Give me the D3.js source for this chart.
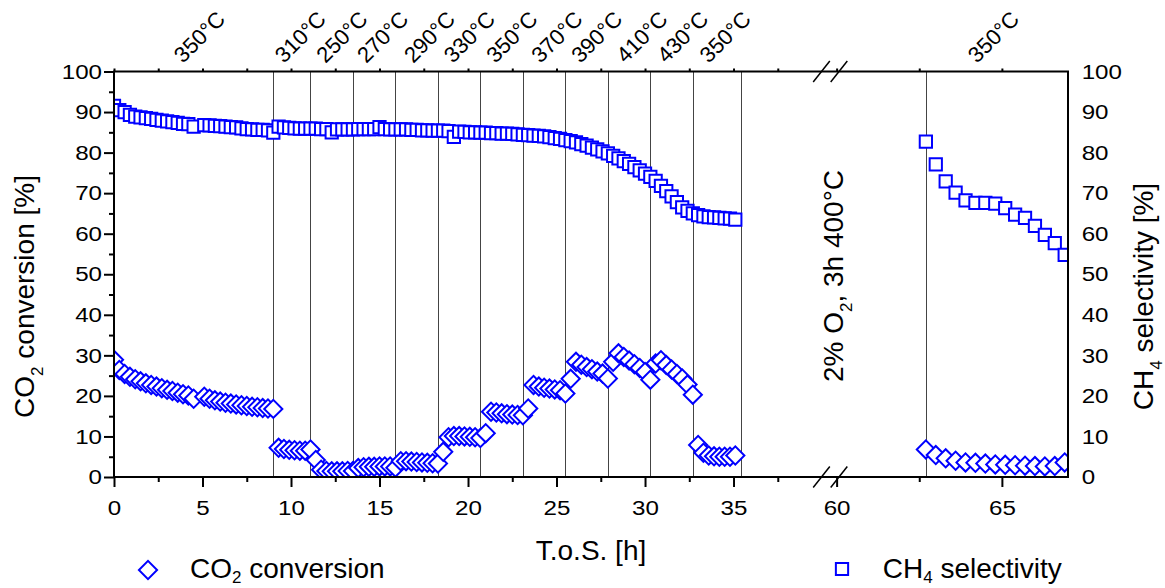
<!DOCTYPE html>
<html>
<head>
<meta charset="utf-8">
<script src="https://cdn.jsdelivr.net/npm/d3@7"></script>
<style>
  body { margin: 0; background: #fff; }
  svg text { font-family: "Liberation Sans", Arial, sans-serif; fill: #000; }
</style>
</head>
<body>
<div id="chart"></div>
<script>
// time on stream [h] before the break, one row per temperature step
var tosA = [
  0, 0.3, 0.6, 0.9, 1.2, 1.5, 1.8, 2.1, 2.4, 2.7, 3.0, 3.3, 3.6, 3.9, 4.2, 4.5,
  5.1, 5.4, 5.7, 6.0, 6.3, 6.6, 6.9, 7.2, 7.5, 7.8, 8.1, 8.4, 8.7, 9.0,
  9.3, 9.6, 9.9, 10.2, 10.5, 10.8, 11.1,
  11.4, 11.7, 12.0, 12.3, 12.6, 12.9, 13.2, 13.5,
  13.8, 14.1, 14.4, 14.7, 15.0, 15.3, 15.6, 15.9,
  16.2, 16.5, 16.8, 17.1, 17.4, 17.7, 18.0, 18.3,
  18.6, 18.9, 19.2, 19.5, 19.8, 20.1, 20.4, 20.7,
  21.0, 21.3, 21.6, 21.9, 22.2, 22.5, 22.8, 23.1,
  23.4, 23.7, 24.0, 24.3, 24.6, 24.9, 25.2, 25.5,
  25.8, 26.1, 26.4, 26.7, 27.0, 27.3, 27.6, 27.9,
  28.2, 28.5, 28.8, 29.1, 29.4, 29.7, 30.0, 30.3,
  30.6, 30.9, 31.2, 31.5, 31.8, 32.1, 32.4, 32.7,
  33.0, 33.3, 33.6, 33.9, 34.2, 34.5, 34.8, 35.1
];
var co2A = [
  28.9, 26.4, 25.4, 24.7, 24.1, 23.6, 23.1, 22.7, 22.3, 21.9, 21.5, 21.2, 20.8, 20.4, 20.1, 19.3,
  19.8, 19.3, 18.9, 18.6, 18.3, 18.1, 17.9, 17.7, 17.5, 17.3, 17.2, 17.0, 16.9, 16.8,
  7.2, 6.9, 6.7, 6.6, 6.5, 6.5, 6.8,
  4.2, 1.8, 1.5, 1.4, 1.4, 1.4, 1.5, 1.5,
  2.2, 2.4, 2.5, 2.5, 2.6, 2.6, 2.6, 2.3,
  3.9, 3.9, 3.8, 3.7, 3.6, 3.5, 3.4, 3.3,
  6.2, 9.8, 10.1, 10.1, 10.0, 9.9, 9.8, 9.6,
  10.8, 16.1, 15.9, 15.7, 15.5, 15.4, 15.3, 15.2,
  16.9, 22.7, 22.3, 22.0, 21.8, 21.6, 21.4, 20.6,
  24.2, 28.4, 27.7, 27.1, 26.6, 26.0, 25.5, 24.3,
  28.4, 30.5, 29.6, 28.7, 27.8, 26.9, 25.9, 24.0,
  28.0, 28.8, 27.6, 26.5, 25.4, 24.3, 22.8, 20.3,
  7.9, 6.0, 5.3, 5.1, 5.0, 5.0, 5.0, 5.3
];
var ch4A = [
  91.5, 90.5, 90.0, 89.3, 88.9, 88.7, 88.5, 88.3, 88.1, 87.9, 87.7, 87.5, 87.3, 87.1, 87.0, 86.4,
  86.8, 86.7, 86.6, 86.5, 86.4, 86.3, 86.2, 86.0, 85.8, 85.7, 85.6, 85.6, 85.5, 84.9,
  86.4, 86.2, 86.1, 86.0, 85.9, 85.9, 85.9,
  85.9, 85.8, 85.8, 85.0, 85.7, 85.7, 85.7, 85.7,
  85.8, 85.8, 85.8, 85.8, 86.3, 85.8, 85.7, 85.7,
  85.7, 85.7, 85.6, 85.6, 85.5, 85.5, 85.4, 85.4,
  85.4, 85.3, 83.9, 85.2, 85.1, 85.0, 85.0, 84.9,
  84.9, 84.8, 84.8, 84.7, 84.7, 84.6, 84.5, 84.4,
  84.3, 84.2, 84.1, 84.0, 83.8, 83.6, 83.4, 83.1,
  82.8, 82.5, 82.1, 81.7, 81.2, 80.8, 80.3, 79.8,
  79.2, 78.6, 77.9, 77.2, 76.4, 75.6, 74.8, 74.0,
  73.0, 71.8, 70.5, 69.2, 67.8, 66.5, 65.6, 65.0,
  64.6, 64.3, 64.1, 64.0, 63.9, 63.8, 63.7, 63.5
];

// after the O2 treatment
var tosB = [62.7, 63.0, 63.3, 63.6, 63.9, 64.2, 64.5, 64.8, 65.1, 65.4, 65.7, 66.0, 66.3, 66.6, 66.9];
var co2B = [6.8, 5.4, 4.6, 4.0, 3.6, 3.5, 3.3, 3.1, 3.0, 2.9, 2.8, 2.7, 2.6, 2.7, 3.6];
var ch4B = [82.7, 77.1, 72.9, 70.1, 68.2, 67.6, 67.6, 67.4, 66.3, 64.7, 63.9, 61.9, 59.7, 57.7, 54.8];

// temperature changes
var stepLines = [9.0, 11.1, 13.5, 15.9, 18.3, 20.7, 23.1, 25.5, 27.9, 30.3, 32.7, 35.4, 62.7];
var tempLabels = ['350°C', '310°C', '250°C', '270°C', '290°C', '330°C', '350°C',
                  '370°C', '390°C', '410°C', '430°C', '350°C', '350°C'];
var tempLabelAt = [3.9, 9.6, 11.95, 14.25, 16.9, 19.15, 21.55, 24.1, 26.35, 28.9, 31.2, 33.6, 64.25];

var xMajorA = [0, 5, 10, 15, 20, 25, 30, 35];
var xMinorA = [2.5, 7.5, 12.5, 17.5, 22.5, 27.5, 32.5, 37.5];
var xMajorB = [60, 65];
var xMinorB = [62.5];
var yMajor = [0, 10, 20, 30, 40, 50, 60, 70, 80, 90, 100];
var yMinor = [5, 15, 25, 35, 45, 55, 65, 75, 85, 95];

var W = 1165, H = 588;
var L = 114, R = 1068, T = 71.5, B = 477, BRK = 830;
var blue = '#0000ff';
var sx = 1.15; // tick labels are a little wider than Arial

var svg = d3.select('#chart').append('svg').attr('width', W).attr('height', H);

var xa = d3.scaleLinear().domain([0, 40.45]).range([L, BRK]);
var xb = d3.scaleLinear().domain([59.8, 67]).range([BRK, R]);
var y = d3.scaleLinear().domain([0, 100]).range([B, T]);
function x(t) { return t < 50 ? xa(t) : xb(t); }

// temperature step lines
svg.append('g').selectAll('line').data(stepLines).enter().append('line')
    .attr('x1', d => Math.round(x(d)) + 0.5).attr('x2', d => Math.round(x(d)) + 0.5)
    .attr('y1', T).attr('y2', B)
    .attr('stroke', '#444').attr('stroke-width', 1);

// markers
svg.append('clipPath').attr('id', 'plotclip').append('rect')
    .attr('x', L).attr('y', T).attr('width', R - L).attr('height', B - T);
var plot = svg.append('g').attr('clip-path', 'url(#plotclip)');
var sq = d3.symbol().type(d3.symbolSquare).size(150);
var dia = d3.symbol().type(d3.symbolSquare).size(165);

function drawSeries(ts, vs, sym, rot) {
    plot.append('g').selectAll('path').data(ts).enter().append('path')
        .attr('d', sym)
        .attr('transform', (d, i) => 'translate(' + x(d) + ',' + y(vs[i]) + ')' + (rot ? ' rotate(45)' : ''))
        .attr('fill', '#fff').attr('stroke', blue).attr('stroke-width', 2);
}
drawSeries(tosA, ch4A, sq, false);
drawSeries(tosB, ch4B, sq, false);
drawSeries(tosA, co2A, dia, true);
drawSeries(tosB, co2B, dia, true);

// axes
function tidy(g) {
    g.select('.domain').remove();
    g.selectAll('line').attr('stroke', '#000').attr('stroke-width', 2);
    g.selectAll('text').style('font-size', '21px');
}
function bottomAxis(scale, vals, size, labels) {
    var ax = d3.axisBottom(scale).tickValues(vals).tickSize(size).tickPadding(13)
        .tickFormat(labels ? d3.format('d') : '');
    var g = svg.append('g').attr('transform', 'translate(0,' + B + ')').call(ax).call(tidy);
    g.selectAll('text').attr('transform', 'scale(' + sx + ',1)');
}
function topAxis(scale, vals) {
    svg.append('g').attr('transform', 'translate(0,' + T + ')')
        .call(d3.axisTop(scale).tickValues(vals).tickSize(3).tickFormat('')).call(tidy);
}
bottomAxis(xa, xMajorA, 10, true);
bottomAxis(xa, xMinorA, 5, false);
bottomAxis(xb, xMajorB, 10, true);
bottomAxis(xb, xMinorB, 5, false);
topAxis(xa, xMajorA.concat(xMinorA));
topAxis(xb, xMajorB.concat(xMinorB));

var gl = svg.append('g').attr('transform', 'translate(' + L + ',0)')
    .call(d3.axisLeft(y).tickValues(yMajor).tickSize(10).tickPadding(2)).call(tidy);
gl.selectAll('text').attr('x', -12 / sx).attr('transform', 'scale(' + sx + ',1)');
svg.append('g').attr('transform', 'translate(' + L + ',0)')
    .call(d3.axisLeft(y).tickValues(yMinor).tickSize(5).tickFormat('')).call(tidy);
var gr = svg.append('g').attr('transform', 'translate(' + R + ',0)')
    .call(d3.axisRight(y).tickValues(yMajor).tickSize(0).tickPadding(13.7)).call(tidy);
gr.selectAll('text').attr('x', 13.7 / sx).attr('transform', 'scale(' + sx + ',1)');

// frame
svg.append('rect').attr('x', L).attr('y', T).attr('width', R - L).attr('height', B - T)
    .attr('fill', 'none').attr('stroke', '#000').attr('stroke-width', 2);

// axis break marks
[BRK - 8.5, BRK + 9].forEach(function (cx) {
    [T, B].forEach(function (cy) {
        svg.append('line').attr('x1', cx - 8.3).attr('y1', cy + 10.5).attr('x2', cx + 8.3).attr('y2', cy - 10.5)
            .attr('stroke', '#000').attr('stroke-width', 1.5);
    });
});

// temperature labels
svg.append('g').selectAll('text').data(tempLabels).enter().append('text')
    .attr('transform', (d, i) => 'translate(' + x(tempLabelAt[i]) + ',64) rotate(-45)')
    .style('font-size', '22px')
    .text(d => d);

// titles with subscripts
function subText(g, a, s, b, shift) {
    shift = shift || 9;
    g.append('tspan').text(a);
    g.append('tspan').attr('dy', shift).style('font-size', '17px').text(s);
    g.append('tspan').attr('dy', -shift).text(b);
    return g;
}
subText(svg.append('text').attr('transform', 'translate(33.5,296.5) rotate(-90)')
    .attr('text-anchor', 'middle').style('font-size', '28px'), 'CO', '2', ' conversion [%]');
subText(svg.append('text').attr('transform', 'translate(1153,296.5) rotate(-90)')
    .attr('text-anchor', 'middle').style('font-size', '28px'), 'CH', '4', ' selectivity [%]');
subText(svg.append('text').attr('transform', 'translate(843,276) rotate(-90)')
    .attr('text-anchor', 'middle').style('font-size', '28px'), '2% O', '2', ', 3h 400°C');
svg.append('text').attr('x', (L + R) / 2).attr('y', 560).attr('text-anchor', 'middle')
    .style('font-size', '28px').text('T.o.S. [h]');

// legend
svg.append('path').attr('d', dia).attr('transform', 'translate(148,570) rotate(45)')
    .attr('fill', '#fff').attr('stroke', blue).attr('stroke-width', 2);
subText(svg.append('text').attr('x', 190).attr('y', 578).style('font-size', '28px'), 'CO', '2', ' conversion', 5);
svg.append('path').attr('d', sq).attr('transform', 'translate(842,569)')
    .attr('fill', '#fff').attr('stroke', blue).attr('stroke-width', 2);
subText(svg.append('text').attr('x', 882.7).attr('y', 578).style('font-size', '28px'), 'CH', '4', ' selectivity', 5);
</script>
</body>
</html>
